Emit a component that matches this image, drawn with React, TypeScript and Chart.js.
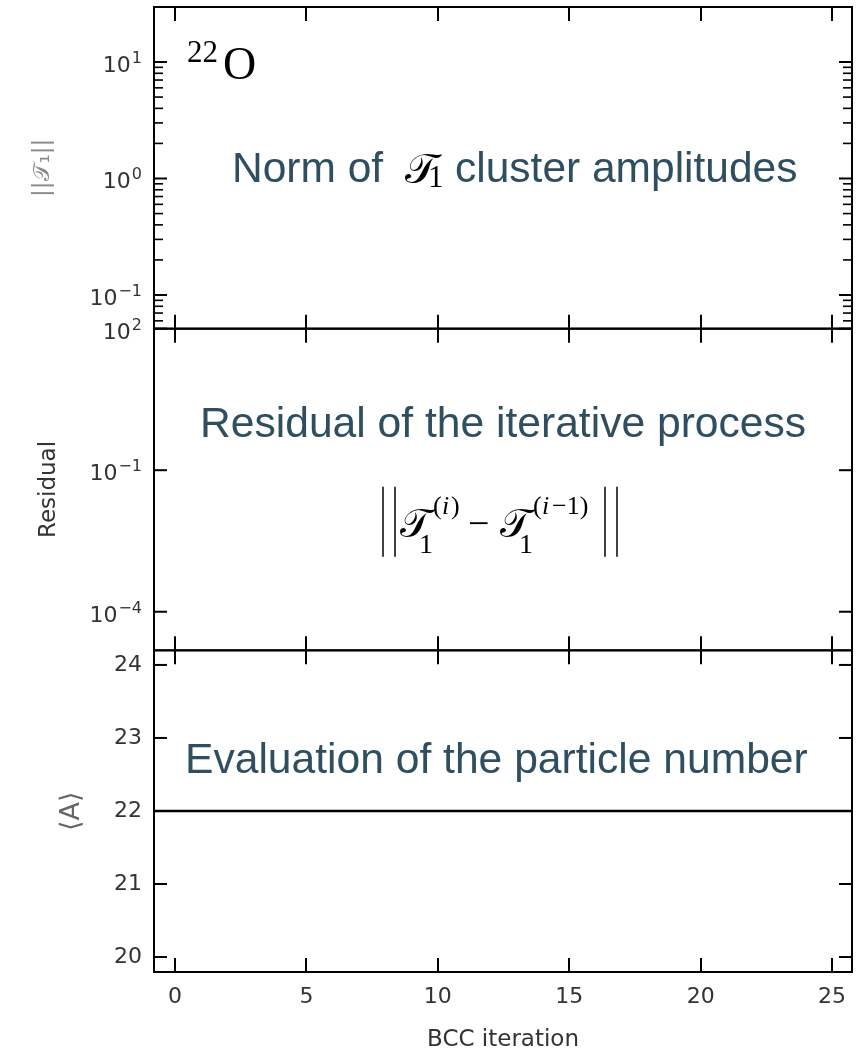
import React, { useEffect, useRef } from "react";
import { Chart, registerables } from "chart.js";

Chart.register(...registerables);

// ---------------- data ----------------
const X_MIN = -0.8;
const X_MAX = 25.76;
const X_TICKS = [0, 5, 10, 15, 20, 25];
const X_TICK_LABELS = ["0", "5", "10", "15", "20", "25"];
const X_TITLE = "BCC iteration";

const NORM_MIN = 0.0514;
const NORM_MAX = 29.65;
const NORM_TICKS = [0.1, 1, 10];
const NORM_TICK_BASES = ["10", "10", "10"];
const NORM_TICK_EXPONENTS = ["−1", "0", "1"];
const NORM_MINOR_TICKS = [0.06, 0.07, 0.08, 0.09, 0.2, 0.3, 0.4, 0.5, 0.6, 0.7, 0.8, 0.9, 2, 3, 4, 5, 6, 7, 8, 9];
const NORM_TITLE = "||𝒯₁||";

const RES_MIN = 1.52e-5;
const RES_MAX = 100;
const RES_TICKS = [1e-4, 1e-1, 1e2];
const RES_TICK_BASES = ["10", "10", "10"];
const RES_TICK_EXPONENTS = ["−4", "−1", "2"];
const RES_TITLE = "Residual";

const A_MIN = 19.795;
const A_MAX = 24.2;
const A_TICKS = [20, 21, 22, 23, 24];
const A_TICK_LABELS = ["20", "21", "22", "23", "24"];
const A_TITLE = "⟨A⟩";
const PARTICLE_NUMBER = 22;

const NORM_NOTE = ["Norm of", "cluster amplitudes"];
const RES_NOTE = "Residual of the iterative process";
const A_NOTE = "Evaluation of the particle number";
// ---------------------------------------

const NOTE_COLOR = "#2f4f60";
const TICK_COLOR = "#333333";
const TICK_FONT = { family: "'DejaVu Sans', sans-serif", size: 22 };
const TITLE_FONT = { family: "'DejaVu Sans', sans-serif", size: 23 };

function labelFor(values: number[], labels: string[], v: number) {
  for (let i = 0; i < values.length; i++) {
    if (Math.abs(v - values[i]) <= Math.abs(values[i]) * 1e-6 + 1e-12) return labels[i];
  }
  return "";
}

function yScale(
  type: string,
  min: number,
  max: number,
  ticks: number[],
  labels: string[],
  showLabels: boolean,
  title: string,
  titleColor: string,
  titlePad: number,
  titleSize: number,
  weight: number
) {
  return {
    type,
    position: "left",
    stack: "panels",
    stackWeight: 1,
    weight,
    min,
    max,
    afterBuildTicks: (s: any) => {
      s.ticks = ticks.map((v) => ({ value: v }));
    },
    afterFit: (s: any) => {
      s.width = 154;
      s.paddingTop = 0;
      s.paddingBottom = 0;
    },
    grid: { display: false, drawTicks: false },
    border: { display: false },
    ticks: {
      display: showLabels,
      autoSkip: false,
      padding: 12,
      color: TICK_COLOR,
      font: TICK_FONT,
      callback: (v: any) => labelFor(ticks, labels, Number(v)),
    },
    title: {
      display: true,
      text: title,
      color: titleColor,
      font: { ...TITLE_FONT, size: titleSize },
      padding: { top: titlePad, bottom: 0 },
    },
  };
}

const framePlugin = {
  id: "frame",
  afterDraw(chart: any) {
    const { ctx, chartArea, scales } = chart;
    const xs = scales.x;
    const panels = [scales.yNorm, scales.yRes, scales.yA];
    const L = chartArea.left;
    const R = chartArea.right;
    const line = (x1: number, y1: number, x2: number, y2: number) => {
      ctx.beginPath();
      ctx.moveTo(x1, y1);
      ctx.lineTo(x2, y2);
      ctx.stroke();
    };
    ctx.save();
    ctx.strokeStyle = "#000";
    ctx.lineCap = "butt";

    // particle number reference line
    ctx.lineWidth = 2.5;
    const yr = scales.yA.getPixelForValue(PARTICLE_NUMBER);
    line(L, yr, R, yr);

    ctx.lineWidth = 2;
    panels.forEach((s: any) => {
      const top = s.top;
      const bottom = s.bottom;
      ctx.strokeRect(L, top, R - L, bottom - top);
      X_TICKS.forEach((v) => {
        const px = Math.round(xs.getPixelForValue(v));
        line(px, top, px, top + 14);
        line(px, bottom, px, bottom - 14);
      });
      s.ticks.forEach((t: any) => {
        const py = s.getPixelForValue(t.value);
        line(L, py, L + 13, py);
        line(R, py, R - 13, py);
      });
    });
    ctx.lineWidth = 1.6;
    NORM_MINOR_TICKS.forEach((v) => {
      const py = scales.yNorm.getPixelForValue(v);
      if (py < scales.yNorm.top + 1 || py > scales.yNorm.bottom - 1) return;
      line(L, py, L + 9, py);
      line(R, py, R - 9, py);
    });

    // power-of-ten tick labels with real superscripts
    const powLabels = (s: any, values: number[], bases: string[], exps: string[]) => {
      ctx.fillStyle = TICK_COLOR;
      ctx.textBaseline = "alphabetic";
      ctx.textAlign = "left";
      values.forEach((v, i) => {
        const py = s.getPixelForValue(v);
        ctx.font = "16px 'DejaVu Sans', sans-serif";
        const we = ctx.measureText(exps[i]).width;
        ctx.font = "22px 'DejaVu Sans', sans-serif";
        const wb = ctx.measureText(bases[i]).width;
        const right = L - 12;
        ctx.fillText(bases[i], right - we - wb - 1, py + 10);
        ctx.font = "16px 'DejaVu Sans', sans-serif";
        ctx.fillText(exps[i], right - we, py + 1);
      });
    };
    powLabels(scales.yNorm, NORM_TICKS, NORM_TICK_BASES, NORM_TICK_EXPONENTS);
    powLabels(scales.yRes, RES_TICKS, RES_TICK_BASES, RES_TICK_EXPONENTS);

    const txt = (s: string, x: number, y: number, font: string, color: string, align = "left") => {
      ctx.font = font;
      ctx.fillStyle = color;
      ctx.textAlign = align;
      ctx.textBaseline = "alphabetic";
      ctx.fillText(s, x, y);
    };
    const SANS = "'Liberation Sans', Arial, sans-serif";
    const SERIF = "'Liberation Serif', 'DejaVu Serif', serif";
    const CAL = "'DejaVu Serif', 'DejaVu Sans', serif";

    // top panel
    const t0 = scales.yNorm.top;
    txt("22", L + 33, t0 + 55, `31px ${SERIF}`, "#000");
    txt("O", L + 69, t0 + 72, `46px ${SERIF}`, "#000");
    txt(NORM_NOTE[0], L + 78, t0 + 175, `42.5px ${SANS}`, NOTE_COLOR);
    txt("𝒯", L + 251, t0 + 176, `42px ${CAL}`, "#000");
    txt("1", L + 274, t0 + 180, `31px ${SERIF}`, "#000");
    txt(NORM_NOTE[1], L + 301, t0 + 175, `42.5px ${SANS}`, NOTE_COLOR);

    // middle panel
    const t1 = scales.yRes.top;
    txt(RES_NOTE, L + 46, t1 + 108, `42.6px ${SANS}`, NOTE_COLOR);
    ctx.lineWidth = 1.5;
    const b0 = t1 + 158;
    const b1 = t1 + 228;
    [229, 241, 451, 463].forEach((dx) => line(L + dx, b0, L + dx, b1));
    txt("𝒯", L + 246, t1 + 208, `40px ${CAL}`, "#000");
    txt("1", L + 265, t1 + 224, `28px ${SERIF}`, "#000");
    txt("(", L + 279, t1 + 185, `26px ${SERIF}`, "#000");
    txt("i", L + 288, t1 + 185, `italic 26px ${SERIF}`, "#000");
    txt(")", L + 297, t1 + 185, `26px ${SERIF}`, "#000");
    txt("−", L + 314, t1 + 207, `38px ${SERIF}`, "#000");
    txt("𝒯", L + 346, t1 + 208, `40px ${CAL}`, "#000");
    txt("1", L + 365, t1 + 224, `28px ${SERIF}`, "#000");
    txt("(", L + 379, t1 + 185, `26px ${SERIF}`, "#000");
    txt("i", L + 388, t1 + 185, `italic 26px ${SERIF}`, "#000");
    txt("−1)", L + 398, t1 + 185, `26px ${SERIF}`, "#000");

    // bottom panel
    const t2 = scales.yA.top;
    txt(A_NOTE, L + 31, t2 + 123, `42.6px ${SANS}`, NOTE_COLOR);
    ctx.restore();
  },
};

export default function App() {
  const ref = useRef<HTMLCanvasElement | null>(null);
  useEffect(() => {
    if (!ref.current) return;
    const chart = new Chart(ref.current, {
      type: "line",
      data: { datasets: [] },
      options: {
        animation: false,
        responsive: false,
        devicePixelRatio: 1,
        layout: { padding: { top: 7, right: 4, left: 0, bottom: 0 } },
        plugins: { legend: { display: false }, tooltip: { enabled: false } },
        scales: {
          x: {
            type: "linear",
            position: "bottom",
            min: X_MIN,
            max: X_MAX,
            afterBuildTicks: (s: any) => {
              s.ticks = X_TICKS.map((v) => ({ value: v }));
            },
            afterFit: (s: any) => {
              s.height = 79;
              s.paddingLeft = 0;
              s.paddingRight = 0;
            },
            grid: { display: false, drawTicks: false },
            border: { display: false },
            ticks: {
              autoSkip: false,
              maxRotation: 0,
              padding: 12,
              color: TICK_COLOR,
              font: TICK_FONT,
              callback: (v: any) => labelFor(X_TICKS, X_TICK_LABELS, Number(v)),
            },
            title: {
              display: true,
              text: X_TITLE,
              color: TICK_COLOR,
              font: TITLE_FONT,
              padding: { top: 0, bottom: -3 },
            },
          },
          yA: yScale("linear", A_MIN, A_MAX, A_TICKS, A_TICK_LABELS, true, A_TITLE, "#666666", 56, 27, 1),
          yRes: yScale("logarithmic", RES_MIN, RES_MAX, RES_TICKS, RES_TICK_EXPONENTS, false, RES_TITLE, "#333333", 35, 23, 2),
          yNorm: yScale("logarithmic", NORM_MIN, NORM_MAX, NORM_TICKS, NORM_TICK_EXPONENTS, false, NORM_TITLE, "#8a8a8a", 29, 23, 3),
        } as any,
      },
      plugins: [framePlugin as any],
    });
    return () => chart.destroy();
  }, []);
  return (
    <div style={{ position: "absolute", left: 0, top: 0, width: 856, height: 1051, background: "#fff" }}>
      <canvas ref={ref} width={856} height={1051} style={{ display: "block" }} />
    </div>
  );
}
